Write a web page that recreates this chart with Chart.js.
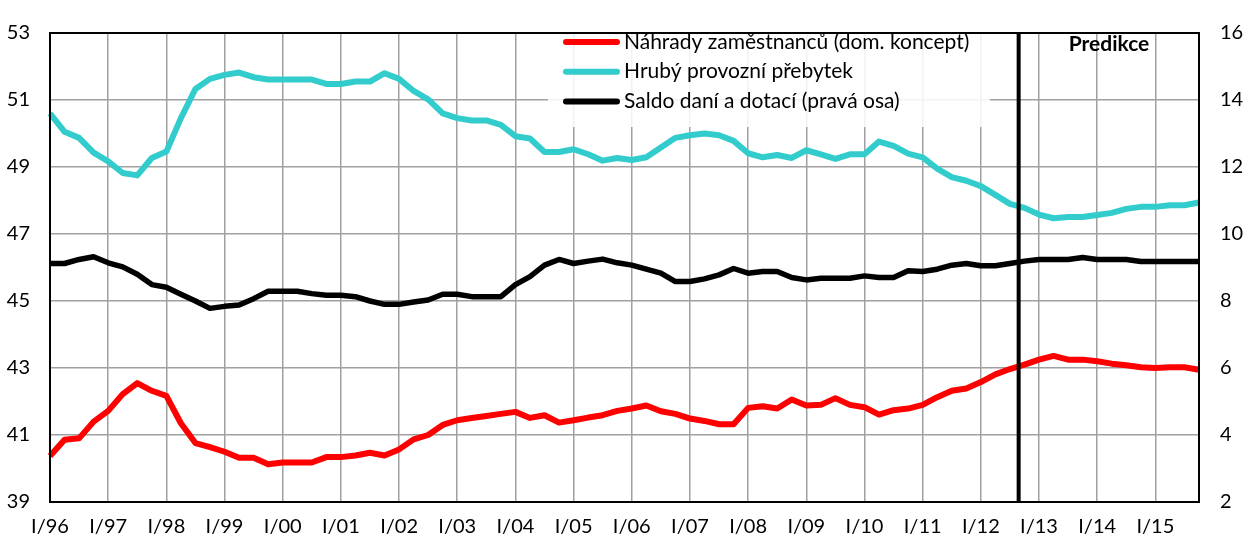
<!DOCTYPE html>
<html>
<head>
<meta charset="utf-8">
<script src="https://cdn.jsdelivr.net/npm/chart.js@4/dist/chart.umd.min.js"></script>
<style>
html,body{margin:0;padding:0;background:#fff;}
#wrap{width:1244px;height:538px;}
</style>
</head>
<body>
<div id="wrap"><canvas id="c" width="1244" height="538"></canvas></div>
<script>
// ---- data ----
const years = ['96','97','98','99','00','01','02','03','04','05','06','07','08','09','10','11','12','13','14','15'];
const quarterNames = ['I','II','III','IV'];
const categories = [];
years.forEach(y => quarterNames.forEach(q => categories.push(q + '/' + y)));

const seriesNames = [
  'Náhrady zaměstnanců (dom. koncept)',
  'Hrubý provozní přebytek',
  'Saldo daní a dotací (pravá osa)'
];

const nahrady = [
  40.37, 40.86, 40.90, 41.40, 41.72, 42.22, 42.55, 42.32, 42.17, 41.35,
  40.76, 40.64, 40.50, 40.32, 40.32, 40.13, 40.18, 40.18, 40.18, 40.34,
  40.34, 40.39, 40.47, 40.39, 40.57, 40.87, 41.00, 41.30, 41.44, 41.51,
  41.57, 41.63, 41.69, 41.51, 41.59, 41.37, 41.44, 41.52, 41.59, 41.72,
  41.79, 41.88, 41.71, 41.63, 41.49, 41.42, 41.32, 41.32, 41.81, 41.86,
  41.79, 42.06, 41.88, 41.90, 42.10, 41.90, 41.83, 41.61, 41.74, 41.79,
  41.90, 42.13, 42.32, 42.39, 42.58, 42.81, 42.97, 43.10, 43.25, 43.36,
  43.25, 43.25, 43.20, 43.13, 43.08, 43.02, 43.00, 43.02, 43.02, 42.95
];

const prebytek = [
  50.60, 50.05, 49.87, 49.43, 49.17, 48.82, 48.75, 49.27, 49.46, 50.46,
  51.33, 51.63, 51.75, 51.82, 51.68, 51.61, 51.61, 51.61, 51.61, 51.48,
  51.48, 51.55, 51.55, 51.80, 51.63, 51.27, 51.02, 50.60, 50.46, 50.39,
  50.39, 50.26, 49.92, 49.85, 49.45, 49.45, 49.53, 49.38, 49.19, 49.27,
  49.21, 49.29, 49.58, 49.87, 49.95, 50.00, 49.95, 49.78, 49.41, 49.29,
  49.36, 49.27, 49.50, 49.38, 49.24, 49.38, 49.38, 49.76, 49.63, 49.40,
  49.29, 48.95, 48.70, 48.59, 48.43, 48.17, 47.90, 47.78, 47.58, 47.47,
  47.51, 47.51, 47.57, 47.63, 47.75, 47.81, 47.81, 47.86, 47.86, 47.94
];

const saldo = [
  9.12, 9.12, 9.24, 9.32, 9.14, 9.02, 8.80, 8.49, 8.41, 8.20,
  8.00, 7.78, 7.84, 7.88, 8.07, 8.29, 8.29, 8.29, 8.22, 8.17,
  8.17, 8.13, 8.00, 7.90, 7.90, 7.97, 8.03, 8.20, 8.20, 8.13,
  8.13, 8.13, 8.49, 8.73, 9.07, 9.24, 9.12, 9.19, 9.25, 9.14,
  9.07, 8.95, 8.83, 8.58, 8.58, 8.66, 8.78, 8.97, 8.83, 8.88,
  8.88, 8.70, 8.63, 8.68, 8.68, 8.68, 8.75, 8.70, 8.70, 8.90,
  8.88, 8.95, 9.07, 9.12, 9.05, 9.05, 9.12, 9.19, 9.24, 9.24,
  9.24, 9.30, 9.24, 9.24, 9.24, 9.18, 9.18, 9.18, 9.18, 9.18
];

const predictionAt = 66.6;          // category position of the forecast divider
const predictionLabel = 'Predikce';

// ---- styles ----
const FONT = 'Lato, "Open Sans", sans-serif';
const GRID = '#a0a0a0';
const colors = ['#ff0000', '#33cccc', '#000000'];

const overlay = {
  id: 'overlay',
  beforeDatasetsDraw(chart) {
    const ctx = chart.ctx;
    const a = chart.chartArea;
    ctx.save();
    ctx.fillStyle = 'rgba(255,255,255,0.86)';
    ctx.fillRect(548, a.top, 442, 94);
    ctx.restore();
  },
  afterDatasetsDraw(chart) {
    const ctx = chart.ctx;
    const a = chart.chartArea;
    const x = chart.scales.x.getPixelForValue(predictionAt);
    ctx.save();
    ctx.strokeStyle = '#000';
    ctx.lineWidth = 4;
    ctx.beginPath();
    ctx.moveTo(x, a.top);
    ctx.lineTo(x, a.bottom);
    ctx.stroke();
    ctx.fillStyle = '#000';
    ctx.font = 'bold 21px ' + FONT;
    ctx.textAlign = 'center';
    ctx.textBaseline = 'middle';
    ctx.fillText(predictionLabel, 1109, 44);
    ctx.font = '21px ' + FONT;
    ctx.textAlign = 'left';
    chart.data.datasets.forEach((ds, i) => {
      const y = 42 + i * 29.7;
      ctx.strokeStyle = ds.borderColor;
      ctx.lineWidth = 6;
      ctx.lineCap = 'round';
      ctx.beginPath();
      ctx.moveTo(566, y);
      ctx.lineTo(617, y);
      ctx.stroke();
      ctx.fillStyle = '#000';
      ctx.fillText(ds.label, 624, y);
    });
    ctx.restore();
  },
  afterDraw(chart) {
    const ctx = chart.ctx;
    const a = chart.chartArea;
    ctx.save();
    ctx.strokeStyle = '#000';
    ctx.lineWidth = 2;
    ctx.strokeRect(a.left, a.top, a.right - a.left, a.bottom - a.top);
    ctx.restore();
  }
};

new Chart(document.getElementById('c'), {
  type: 'line',
  data: {
    labels: categories,
    datasets: [
      { label: seriesNames[0], data: nahrady, yAxisID: 'y', borderColor: colors[0], backgroundColor: colors[0], borderWidth: 6 },
      { label: seriesNames[1], data: prebytek, yAxisID: 'y', borderColor: colors[1], backgroundColor: colors[1], borderWidth: 6 },
      { label: seriesNames[2], data: saldo, yAxisID: 'y1', borderColor: colors[2], backgroundColor: colors[2], borderWidth: 5.5 }
    ]
  },
  options: {
    responsive: false,
    devicePixelRatio: 1,
    animation: false,
    layout: { padding: { top: 23, left: 0, right: 0, bottom: 0 } },
    elements: {
      point: { radius: 0 },
      line: { tension: 0, borderJoinStyle: 'round', borderCapStyle: 'butt' }
    },
    plugins: { legend: { display: false }, tooltip: { enabled: false } },
    scales: {
      x: {
        offset: false,
        border: { display: true, color: '#000', width: 2 },
        grid: {
          drawTicks: false,
          lineWidth: 1.5,
          color: c => (c.index % 4 === 0 ? GRID : 'rgba(0,0,0,0)')
        },
        ticks: {
          autoSkip: false,
          maxRotation: 0,
          minRotation: 0,
          padding: 13,
          color: '#000',
          font: { family: FONT, size: 20 },
          callback: function (v, i) { return i % 4 === 0 ? this.getLabelForValue(v) : ''; }
        },
        afterFit: s => { s.height = 36; }
      },
      y: {
        position: 'left',
        min: 39, max: 53,
        border: { display: true, color: '#000', width: 2 },
        grid: { drawTicks: false, lineWidth: 1.5, color: GRID },
        ticks: { stepSize: 2, padding: 20, color: '#000', font: { family: FONT, size: 20 } },
        afterFit: s => { s.width = 50; }
      },
      y1: {
        position: 'right',
        min: 2, max: 16,
        border: { display: true, color: '#000', width: 2 },
        grid: { display: false, drawTicks: false },
        ticks: { stepSize: 2, padding: 21, color: '#000', font: { family: FONT, size: 20 } },
        afterFit: s => { s.width = 45; }
      }
    }
  },
  plugins: [overlay]
});
</script>
</body>
</html>
